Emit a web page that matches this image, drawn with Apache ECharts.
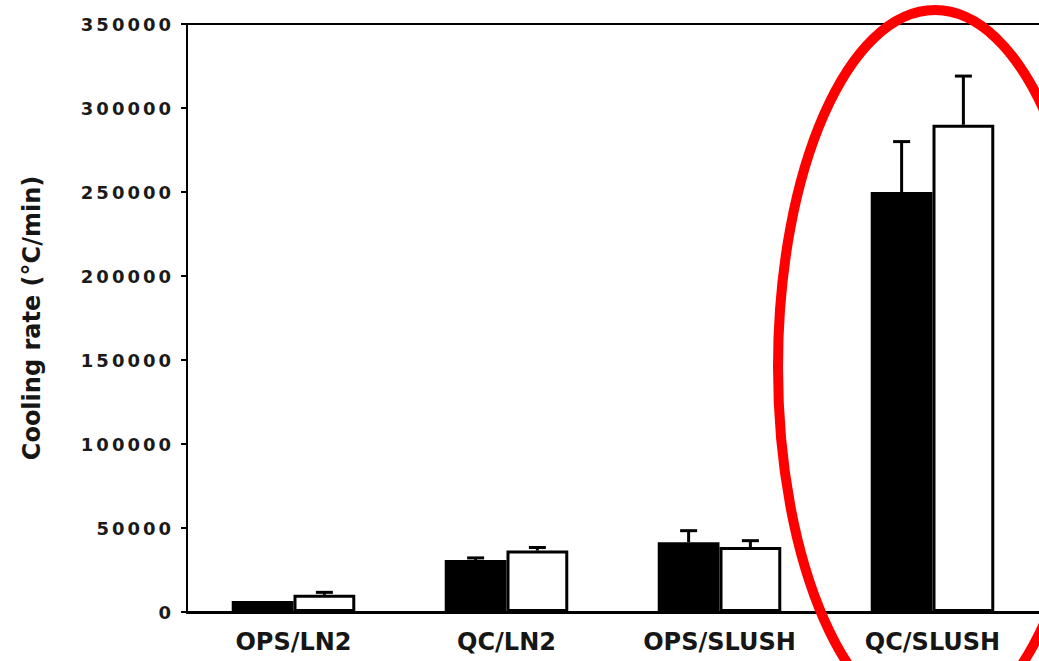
<!DOCTYPE html>
<html>
<head>
<meta charset="utf-8">
<script src="https://cdn.jsdelivr.net/npm/echarts@6/dist/echarts.min.js"></script>
<style>
  html, body { margin: 0; padding: 0; background: #fff; }
  #chart { width: 1039px; height: 661px; }
</style>
</head>
<body>
<div id="chart"></div>
<script>
// ---- data ----
const categories = ['OPS/LN2', 'QC/LN2', 'OPS/SLUSH', 'QC/SLUSH'];
const blackValues = [6500, 31000, 41500, 250000];
const blackErrors = [0, 1200, 6900, 30000];
const whiteValues = [10200, 36600, 38700, 290000];
const whiteErrors = [1500, 1800, 3750, 29000];
const yMin = 0, yMax = 350000, yStep = 50000;
const yTitle = 'Cooling rate (°C/min)';

const CAT_GAP = 0.42;
const FONT = 'DejaVu Sans';

const errData = [];
categories.forEach((c, i) => {
  errData.push([i, blackValues[i], blackErrors[i], 0]);
  errData.push([i, whiteValues[i], whiteErrors[i], 1]);
});

const chart = echarts.init(document.getElementById('chart'), null, { renderer: 'svg' });

chart.setOption({
  animation: false,
  backgroundColor: '#ffffff',
  grid: { left: 187, right: -7, top: 24, bottom: 49, containLabel: false },
  xAxis: [{
    type: 'category',
    data: categories,
    position: 'bottom',
    axisLine: { show: true, lineStyle: { color: '#000', width: 3 } },
    axisTick: { show: false },
    axisLabel: {
      margin: 18, color: '#161616', fontFamily: FONT, fontWeight: 'bold',
      fontSize: 24, lineHeight: 24, interval: 0
    },
    splitLine: { show: false }
  }, {
    type: 'category',
    data: categories,
    position: 'top',
    axisLine: { show: true, lineStyle: { color: '#000', width: 2 } },
    axisTick: { show: false },
    axisLabel: { show: false },
    splitLine: { show: false }
  }],
  yAxis: {
    type: 'value',
    min: yMin, max: yMax, interval: yStep,
    name: yTitle,
    nameLocation: 'middle',
    nameRotate: 90,
    nameGap: 143,
    nameTextStyle: { color: '#161616', fontFamily: FONT, fontWeight: 'bold', fontSize: 24 },
    axisLine: { show: true, lineStyle: { color: '#000', width: 2 } },
    axisTick: { show: true, inside: false, length: 6, lineStyle: { color: '#000', width: 2 } },
    axisLabel: {
      margin: 13, color: '#1a1a1a', fontFamily: FONT, fontWeight: 'bold', fontSize: 18,
      formatter: function (v) { return String(v); }
    },
    splitLine: { show: false }
  },
  series: [{
    name: 'black',
    type: 'bar',
    data: blackValues,
    barGap: '0%',
    barCategoryGap: (CAT_GAP * 100) + '%',
    itemStyle: { color: '#000', borderColor: '#000', borderWidth: 0 }
  }, {
    name: 'white',
    type: 'bar',
    data: whiteValues,
    barGap: '0%',
    barCategoryGap: (CAT_GAP * 100) + '%',
    itemStyle: { color: '#fff', borderColor: '#000', borderWidth: 3 }
  }, {
    name: 'errors',
    type: 'custom',
    data: errData,
    z: 3,
    renderItem: function (params, api) {
      const x = api.value(0), v = api.value(1), e = api.value(2), s = api.value(3);
      if (!e) return null;
      const band = api.size([1, 0])[0];
      const bw = band * (1 - CAT_GAP) / 2;
      const base = api.coord([x, v]);
      const top = api.coord([x, v + e]);
      const cx = base[0] + (s === 0 ? -bw / 2 : bw / 2);
      const style = { stroke: '#000', lineWidth: 3, fill: null };
      return {
        type: 'group',
        children: [
          { type: 'line', shape: { x1: cx, y1: base[1], x2: cx, y2: top[1] }, style: style },
          { type: 'line', shape: { x1: cx - 8.5, y1: top[1], x2: cx + 8.5, y2: top[1] }, style: style }
        ]
      };
    }
  }],
  graphic: [{
    type: 'ellipse',
    z: 100,
    silent: true,
    shape: { cx: 935, cy: 367, rx: 157, ry: 357 },
    style: { fill: 'none', stroke: '#ff0000', lineWidth: 10 }
  }]
});

// widen the y tick labels like the reference's wide digits
function widen() {
  document.querySelectorAll('#chart text').forEach(t => {
    if (/^\d+$/.test(t.textContent.trim())) {
      t.style.letterSpacing = '3px';
    }
  });
}
widen();
chart.on('finished', widen);
</script>
</body>
</html>
